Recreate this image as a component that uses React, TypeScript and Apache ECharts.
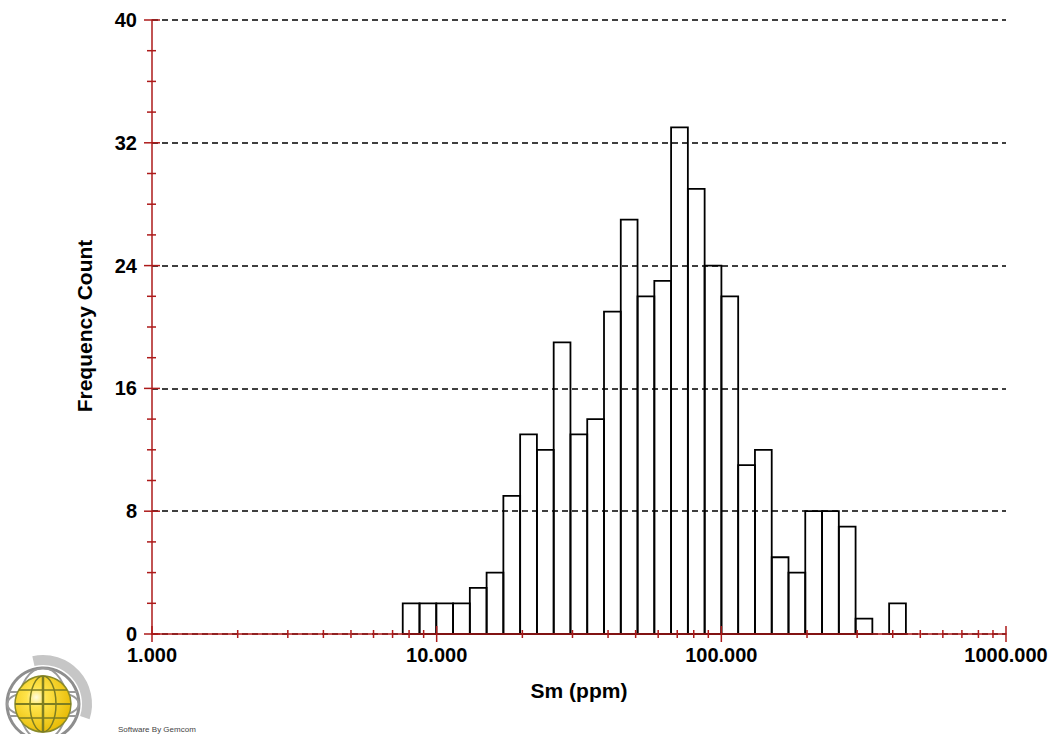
import React, { useEffect, useRef } from "react";
import * as echarts from "echarts";

// Histogram of Sm (ppm): counts per logarithmic bin, lowest bin first
const binCounts = [2, 2, 2, 2, 3, 4, 9, 13, 12, 19, 13, 14, 21, 27, 22, 23, 33, 29, 24, 22, 11, 12, 5, 4, 8, 8, 7, 1, 0, 2];
const binLow = 7.6;
const binHigh = 445;

const xMin = 1;
const xMax = 1000;
const xMajorTicks = [1, 10, 100, 1000];
const xMinorTicks = [2, 3, 4, 5, 6, 7, 8, 9, 20, 30, 40, 50, 60, 70, 80, 90, 200, 300, 400, 500, 600, 700, 800, 900];

const yMin = 0;
const yMax = 40;
const yStep = 8;
const yTicks = [0, 2, 4, 6, 8, 10, 12, 14, 16, 18, 20, 22, 24, 26, 28, 30, 32, 34, 36, 38, 40];

const xTitle = "Sm (ppm)";
const yTitle = "Frequency Count";
const credit = "Software By Gemcom";

const FONT = "'Liberation Sans', Arial, Helvetica, sans-serif";
const AXIS_RED = "#ad1a1a";

export default function App() {
  const ref = useRef<HTMLDivElement>(null);

  useEffect(() => {
    if (!ref.current) return;
    const chart = echarts.init(ref.current, undefined, { renderer: "svg" });

    // geometric bin edges between binLow and binHigh
    const ratio = Math.pow(binHigh / binLow, 1 / binCounts.length);
    const edges = binCounts.map((_, i) => binLow * Math.pow(ratio, i)).concat([binHigh]);
    const bins = binCounts.map((c, i) => [edges[i], edges[i + 1], c]);

    const xTickData = [
      ...xMajorTicks.map((v) => [v, 1]),
      ...xMinorTicks.map((v) => [v, 0]),
    ];
    const yTickData = yTicks.map((v) => [v, v % yStep === 0 ? 1 : 0]);

    const option: any = {
      animation: false,
      backgroundColor: "#ffffff",
      grid: { left: 152, right: 54, top: 20, bottom: 100 },
      xAxis: {
        type: "log",
        logBase: 10,
        min: xMin,
        max: xMax,
        z: 6,
        axisLine: { show: true, lineStyle: { color: AXIS_RED, width: 1.5 } },
        axisTick: { show: false },
        splitLine: { show: false },
        minorTick: { show: false },
        axisLabel: {
          margin: 11,
          color: "#000",
          fontFamily: FONT,
          fontWeight: "bold",
          fontSize: 20,
          formatter: (v: number) => v.toFixed(3),
        },
      },
      yAxis: {
        type: "value",
        min: yMin,
        max: yMax,
        interval: yStep,
        z: 6,
        axisLine: { show: true, lineStyle: { color: AXIS_RED, width: 1.5 } },
        axisTick: { show: false },
        splitLine: { show: true, lineStyle: { color: "#000", width: 1.5, type: [6, 4] } },
        axisLabel: {
          margin: 15,
          color: "#000",
          fontFamily: FONT,
          fontWeight: "bold",
          fontSize: 20,
          lineHeight: 18,
        },
      },
      series: [
        {
          type: "custom",
          name: "bins",
          z: 2,
          data: bins,
          encode: { x: [0, 1], y: 2 },
          renderItem: (params: any, api: any) => {
            const lo = api.value(0);
            const hi = api.value(1);
            const c = api.value(2);
            if (!c) return null;
            const p0 = api.coord([lo, c]);
            const p1 = api.coord([hi, 0]);
            return {
              type: "rect",
              shape: { x: p0[0], y: p0[1], width: p1[0] - p0[0], height: p1[1] - p0[1] },
              style: { fill: "none", stroke: "#000", lineWidth: 1.8 },
            };
          },
        },
        {
          type: "custom",
          name: "xticks",
          z: 7,
          silent: true,
          data: xTickData,
          encode: { x: 0 },
          renderItem: (params: any, api: any) => {
            const v = api.value(0);
            const major = api.value(1) === 1;
            const p = api.coord([v, yMin]);
            const up = major ? 8 : 4;
            const down = major ? 8 : 4;
            return {
              type: "line",
              shape: { x1: p[0], y1: p[1] - up, x2: p[0], y2: p[1] + down },
              style: { stroke: AXIS_RED, lineWidth: 1.5 },
            };
          },
        },
        {
          type: "custom",
          name: "yticks",
          z: 7,
          silent: true,
          data: yTickData,
          encode: { y: 0 },
          renderItem: (params: any, api: any) => {
            const v = api.value(0);
            const major = api.value(1) === 1;
            const p = api.coord([xMin, v]);
            const left = major ? 8 : 5;
            const right = major ? 8 : 4;
            return {
              type: "line",
              shape: { x1: p[0] - left, y1: p[1], x2: p[0] + right, y2: p[1] },
              style: { stroke: AXIS_RED, lineWidth: 1.5 },
            };
          },
        },
      ],
      graphic: [
        {
          type: "text",
          x: 579,
          y: 690,
          style: {
            text: xTitle,
            font: `bold 21px ${FONT}`,
            fill: "#000",
            align: "center",
            verticalAlign: "middle",
          },
        },
        {
          type: "text",
          x: 84,
          y: 326,
          rotation: Math.PI / 2,
          style: {
            text: yTitle,
            font: `bold 21px ${FONT}`,
            fill: "#000",
            align: "center",
            verticalAlign: "middle",
          },
        },
        {
          type: "text",
          x: 118,
          y: 729,
          style: {
            text: credit,
            font: `8px ${FONT}`,
            fill: "#444",
            align: "left",
            verticalAlign: "middle",
          },
        },
        // company emblem: swoosh arc and globe
        {
          type: "group",
          children: [
            {
              type: "arc",
              shape: { cx: 43, cy: 704, r: 44, startAngle: -Math.PI * 0.57, endAngle: Math.PI * 0.1 },
              style: { stroke: "#c6c6c6", lineWidth: 10, fill: "none" },
            },
            {
              type: "circle",
              shape: { cx: 43, cy: 704, r: 36 },
              style: { fill: "#ffffff", stroke: "#8e8e8e", lineWidth: 3 },
            },
            {
              type: "ellipse",
              shape: { cx: 43, cy: 704, rx: 24, ry: 36 },
              style: { fill: "none", stroke: "#9a9a9a", lineWidth: 2 },
            },
            {
              type: "ellipse",
              shape: { cx: 43, cy: 704, rx: 36, ry: 14 },
              style: { fill: "none", stroke: "#9a9a9a", lineWidth: 2 },
            },
            {
              type: "line",
              shape: { x1: 9, y1: 692, x2: 77, y2: 692 },
              style: { stroke: "#9a9a9a", lineWidth: 2 },
            },
            {
              type: "line",
              shape: { x1: 9, y1: 716, x2: 77, y2: 716 },
              style: { stroke: "#9a9a9a", lineWidth: 2 },
            },
            {
              type: "circle",
              shape: { cx: 43, cy: 704, r: 28 },
              style: {
                fill: new echarts.graphic.RadialGradient(0.38, 0.38, 0.7, [
                  { offset: 0, color: "#fffbe0" },
                  { offset: 0.25, color: "#ffe44a" },
                  { offset: 1, color: "#e6b800" },
                ]),
                stroke: "#8a8a2a",
                lineWidth: 1.5,
              },
            },
            {
              type: "ellipse",
              shape: { cx: 43, cy: 704, rx: 13, ry: 28 },
              style: { fill: "none", stroke: "#7d7d22", lineWidth: 1.5 },
            },
            {
              type: "line",
              shape: { x1: 43, y1: 676, x2: 43, y2: 732 },
              style: { stroke: "#7d7d22", lineWidth: 2.5 },
            },
            {
              type: "line",
              shape: { x1: 15, y1: 704, x2: 71, y2: 704 },
              style: { stroke: "#7d7d22", lineWidth: 2 },
            },
            {
              type: "line",
              shape: { x1: 19, y1: 690, x2: 67, y2: 690 },
              style: { stroke: "#7d7d22", lineWidth: 1.5 },
            },
            {
              type: "line",
              shape: { x1: 19, y1: 718, x2: 67, y2: 718 },
              style: { stroke: "#7d7d22", lineWidth: 1.5 },
            },
          ],
        },
      ],
    };

    chart.setOption(option);
    return () => chart.dispose();
  }, []);

  return (
    <div
      ref={ref}
      style={{ position: "absolute", left: 0, top: 0, width: 1060, height: 734, background: "#fff" }}
    />
  );
}
